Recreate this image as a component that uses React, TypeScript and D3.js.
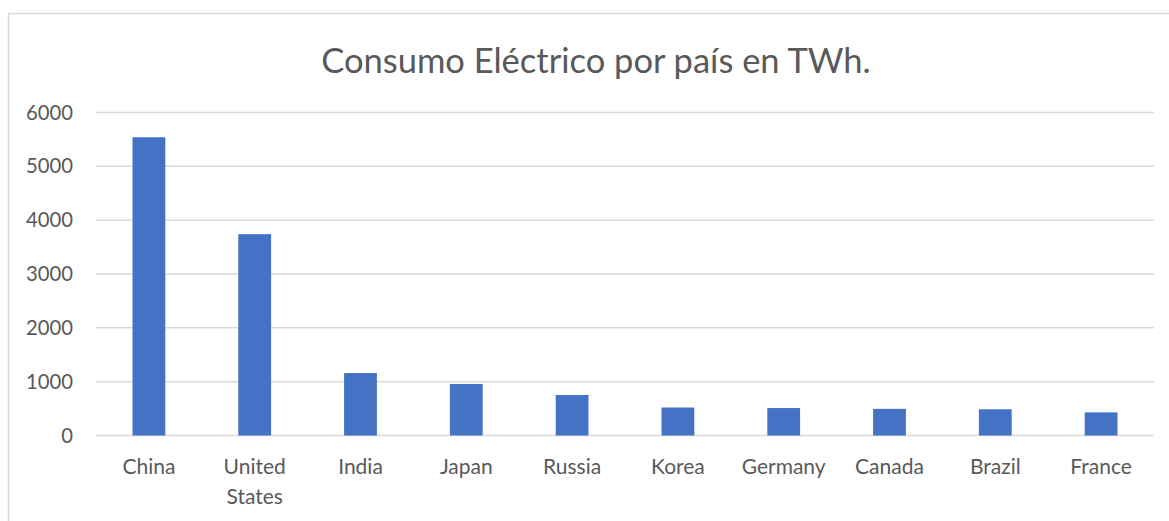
import React, { useEffect, useRef } from "react";
import * as d3 from "d3";

const countries = ["China", "United States", "India", "Japan", "Russia", "Korea", "Germany", "Canada", "Brazil", "France"];
const consumption = [5540, 3740, 1160, 957, 752, 520, 510, 495, 487, 430];
const yTicks = [0, 1000, 2000, 3000, 4000, 5000, 6000];
const title = "Consumo Eléctrico por país en TWh.";

export default function App() {
  const svgRef = useRef<SVGSVGElement | null>(null);

  useEffect(() => {
    if (!svgRef.current) return;
    const svg = d3.select(svgRef.current);
    svg.selectAll("*").remove();

    const plot = { left: 96, right: 1154, top: 112.5, bottom: 435.5 };
    const font = "Lato, 'Open Sans', sans-serif";
    const textColor = "#595959";

    // chart frame
    svg.append("rect")
      .attr("x", 8.5)
      .attr("y", 13.5)
      .attr("width", 1170)
      .attr("height", 530)
      .attr("fill", "#fff")
      .attr("stroke", "#d9d9d9")
      .attr("stroke-width", 1.5);

    const x = d3.scaleBand<string>()
      .domain(countries)
      .range([plot.left, plot.right])
      .paddingInner(0.69)
      .paddingOuter(0.345);

    const y = d3.scaleLinear()
      .domain([0, 6000])
      .range([plot.bottom, plot.top]);

    // gridlines
    svg.append("g")
      .selectAll("line")
      .data(yTicks)
      .join("line")
      .attr("x1", plot.left)
      .attr("x2", plot.right)
      .attr("y1", (d) => y(d))
      .attr("y2", (d) => y(d))
      .attr("stroke", "#d9d9d9")
      .attr("stroke-width", 1.5);

    // y tick labels
    svg.append("g")
      .selectAll("text")
      .data(yTicks)
      .join("text")
      .attr("x", 73)
      .attr("y", (d) => y(d))
      .attr("dy", "0.35em")
      .attr("text-anchor", "end")
      .attr("fill", textColor)
      .attr("font-family", font)
      .attr("font-size", "20.3px")
      .text((d) => String(d));

    // bars
    svg.append("g")
      .selectAll("rect")
      .data(countries)
      .join("rect")
      .attr("x", (d) => x(d)!)
      .attr("y", (d, i) => y(consumption[i]))
      .attr("width", x.bandwidth())
      .attr("height", (d, i) => y(0) - y(consumption[i]))
      .attr("fill", "#4472c4");

    // category labels, multi-word names on two lines
    const cat = svg.append("g")
      .selectAll("text")
      .data(countries)
      .join("text")
      .attr("x", (d) => x(d)! + x.bandwidth() / 2)
      .attr("y", 474)
      .attr("text-anchor", "middle")
      .attr("fill", textColor)
      .attr("font-family", font)
      .attr("font-size", "21px");

    cat.each(function (d) {
      const t = d3.select(this);
      d.split(" ").forEach((w, i) => {
        t.append("tspan")
          .attr("x", x(d)! + x.bandwidth() / 2)
          .attr("dy", i === 0 ? 0 : 30)
          .text(w);
      });
    });

    // title
    svg.append("text")
      .attr("x", 596)
      .attr("y", 73)
      .attr("text-anchor", "middle")
      .attr("fill", textColor)
      .attr("font-family", font)
      .attr("font-size", "34.5px")
      .text(title);
  }, []);

  return (
    <svg
      ref={svgRef}
      width={1169}
      height={521}
      style={{ position: "absolute", left: 0, top: 0, background: "#fff" }}
    />
  );
}
